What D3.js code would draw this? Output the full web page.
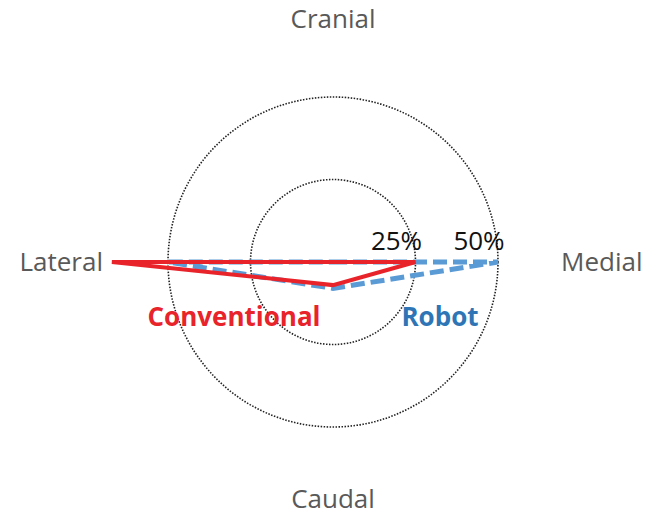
<!DOCTYPE html>
<html>
<head>
<meta charset="utf-8">
<script src="https://cdn.jsdelivr.net/npm/d3@7"></script>
<style>
  body { margin: 0; background: #fff; }
  svg text { font-family: "Open Sans", "Liberation Sans", sans-serif; }
</style>
</head>
<body>
<div id="radar"></div>
<script>
// axis order goes clockwise from the top
const axes = ["Cranial", "Medial", "Caudal", "Lateral"];
const conventional = [0, 25, 7, 67];
const robot = [0, 50, 8, 50];
const ringTicks = [25, 50];
const seriesNames = ["Conventional", "Robot"];

var width = 663, height = 518;
var cx = 333, cy = 262;

var svg = d3.select("#radar")
  .append("svg")
    .attr("width", width)
    .attr("height", height)
  .append("g")
    .attr("transform", "translate(" + cx + "," + cy + ")");

// radius scale, 50% sits on the outer ring
var r = d3.scaleLinear()
  .domain([0, 50])
  .range([0, 165]);

var angle = d3.scalePoint()
  .domain(axes)
  .range([0, 2 * Math.PI * 3 / 4]);

// rings
svg.append("g")
  .selectAll("circle")
  .data(ringTicks)
  .enter()
  .append("circle")
    .attr("r", function (d) { return r(d); })
    .attr("fill", "none")
    .attr("stroke", "#222")
    .attr("stroke-width", 1.6)
    .attr("stroke-dasharray", "1.5 1.5");

// ring labels
svg.append("g")
  .selectAll("text")
  .data(ringTicks)
  .enter()
  .append("text")
    .attr("x", function (d) { return r(d) - 19; })
    .attr("y", -12)
    .attr("text-anchor", "middle")
    .style("font-size", "26px")
    .style("fill", "#111")
    .text(function (d) { return d + "%"; });

// axis labels
var labelPos = {
  Cranial: [0, -234, "middle"],
  Medial: [228, 9, "start"],
  Caudal: [0, 246, "middle"],
  Lateral: [-230, 9, "end"]
};
svg.append("g")
  .selectAll("text")
  .data(axes)
  .enter()
  .append("text")
    .attr("x", function (d) { return labelPos[d][0]; })
    .attr("y", function (d) { return labelPos[d][1]; })
    .attr("text-anchor", function (d) { return labelPos[d][2]; })
    .style("font-size", "26px")
    .style("fill", "#595959")
    .text(function (d) { return d; });

var radar = d3.lineRadial()
  .angle(function (d, i) { return angle(axes[i]); })
  .radius(function (d) { return r(d); })
  .curve(d3.curveLinearClosed);

// robot, dashed blue
svg.append("path")
  .datum(robot)
  .attr("d", radar)
  .attr("fill", "none")
  .attr("stroke", "#5b9bd5")
  .attr("stroke-width", 5)
  .attr("stroke-dasharray", "14 6")
  .attr("stroke-linejoin", "miter");

// conventional, solid red
svg.append("path")
  .datum(conventional)
  .attr("d", radar)
  .attr("fill", "none")
  .attr("stroke", "#e8232a")
  .attr("stroke-width", 4)
  .attr("stroke-linejoin", "miter");

// series labels
svg.append("text")
  .attr("x", -99)
  .attr("y", 64)
  .attr("text-anchor", "middle")
  .style("font-size", "26px")
  .style("font-weight", "bold")
  .style("fill", "#e8232a")
  .text(seriesNames[0]);

svg.append("text")
  .attr("x", 107)
  .attr("y", 64)
  .attr("text-anchor", "middle")
  .style("font-size", "26px")
  .style("font-weight", "bold")
  .style("fill", "#2e75b6")
  .text(seriesNames[1]);
</script>
</body>
</html>
